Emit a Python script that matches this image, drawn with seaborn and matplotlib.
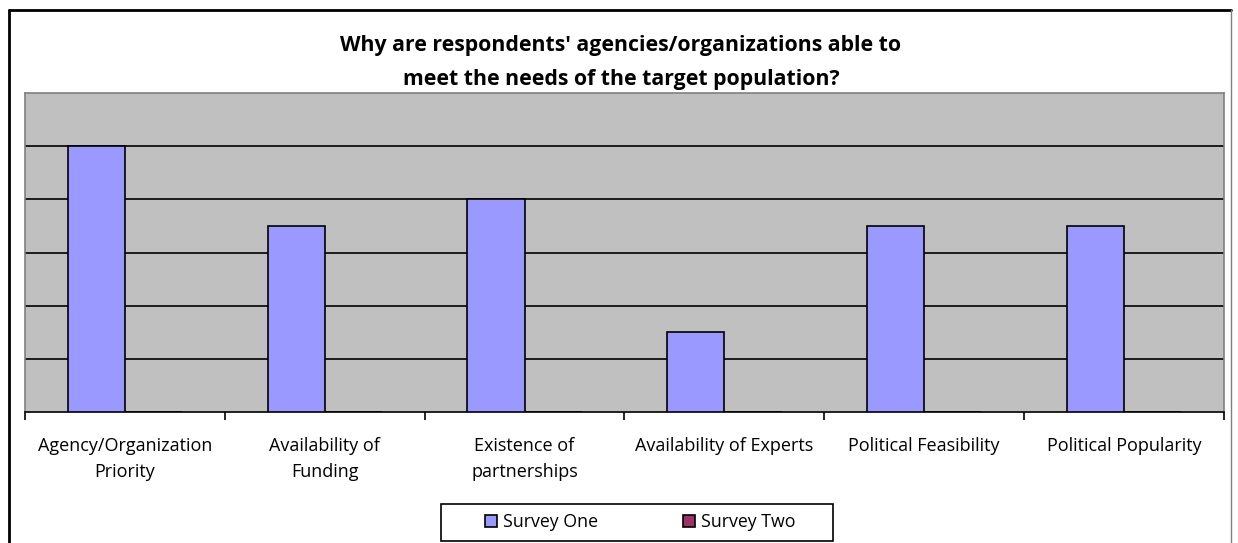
import matplotlib
matplotlib.use("Agg")
import matplotlib.pyplot as plt
from matplotlib.patches import Patch, Rectangle
from matplotlib.lines import Line2D
import seaborn as sns
import pandas as pd

categories = ["Agency/Organization\nPriority", "Availability of\nFunding",
              "Existence of\npartnerships", "Availability of Experts",
              "Political Feasibility", "Political Popularity"]
survey_one = [5, 3.5, 4, 1.5, 3.5, 3.5]
survey_two = [0, 0, 0, 0, 0, 0]
series_names = ["Survey One", "Survey Two"]
colors = ["#9999FF", "#993366"]

df = pd.DataFrame({
    "category": categories * 2,
    "value": survey_one + survey_two,
    "series": [series_names[0]] * len(categories) + [series_names[1]] * len(categories),
})

sns.set_style("white")
plt.rcParams["font.family"] = ["Open Sans", "DejaVu Sans"]
plt.rcParams["text.color"] = "black"
plt.rcParams["xtick.color"] = "black"
plt.rcParams["xtick.labelcolor"] = "black"

W, H = 1238, 543
fig = plt.figure(figsize=(W / 100, H / 100), dpi=100)
ax = fig.add_axes([25 / W, 131 / H, 1199 / W, 319 / H])

sns.barplot(data=df, x="category", y="value", hue="series", order=categories,
            hue_order=series_names, palette=colors, width=0.5714,
            edgecolor="black", linewidth=1.2, saturation=1, ax=ax, legend=False,
            zorder=3)

ax.set_facecolor("#C0C0C0")
ax.set_ylim(0, 6)
ax.set_xlim(-0.5, len(categories) - 0.5)
ax.set_yticks([1, 2, 3, 4, 5])
ax.yaxis.grid(True, color="black", linewidth=1.2, zorder=1)
ax.set_axisbelow(True)
ax.tick_params(axis="y", left=False, labelleft=False)
ax.set_xlabel("")
ax.set_ylabel("")

ax.set_xticks(range(len(categories)))
ax.set_xticklabels(categories, fontsize=13, linespacing=1.55, color="black")
ax.set_xticks([i - 0.5 for i in range(len(categories) + 1)], minor=True)
ax.tick_params(axis="x", which="major", length=0, pad=18)
ax.tick_params(axis="x", which="minor", length=6, width=1.2, color="black", bottom=True)

for side in ["left", "top", "right"]:
    ax.spines[side].set_color("#808080")
    ax.spines[side].set_linewidth(1.2)
ax.spines["bottom"].set_color("black")
ax.spines["bottom"].set_linewidth(1.2)

fig.text(621 / W, 1 - 46 / H,
         "Why are respondents' agencies/organizations able to",
         ha="center", va="center", fontsize=15.3, fontweight="bold", color="black")
fig.text(621 / W, 1 - 79 / H,
         "meet the needs of the target population?",
         ha="center", va="center", fontsize=15.3, fontweight="bold", color="black")

# legend box
fig.add_artist(Rectangle((441 / W, 1 - 541 / H), 392 / W, 37 / H,
                         transform=fig.transFigure, facecolor="white",
                         edgecolor="black", linewidth=1.2))
handles = [Patch(facecolor=c, edgecolor="black", linewidth=1.2) for c in colors]
leg = fig.legend(handles, series_names, loc="center", ncol=2,
                 bbox_to_anchor=(640 / W, 1 - 522 / H),
                 frameon=False, fontsize=12.8, handlelength=0.7, handleheight=0.7,
                 handletextpad=0.3, columnspacing=4.8, borderpad=0.3,
                 labelcolor="black")

# outer chart border (open at the bottom)
fig.add_artist(Line2D([9 / W, 1231 / W], [1 - 10 / H, 1 - 10 / H],
                      color="black", linewidth=2, transform=fig.transFigure))
fig.add_artist(Line2D([9 / W, 9 / W], [1 - 10 / H, 0],
                      color="black", linewidth=2, transform=fig.transFigure))
fig.add_artist(Line2D([1231 / W, 1231 / W], [1 - 10 / H, 0],
                      color="#808080", linewidth=1, transform=fig.transFigure))

fig.savefig("out.png", dpi=100)
